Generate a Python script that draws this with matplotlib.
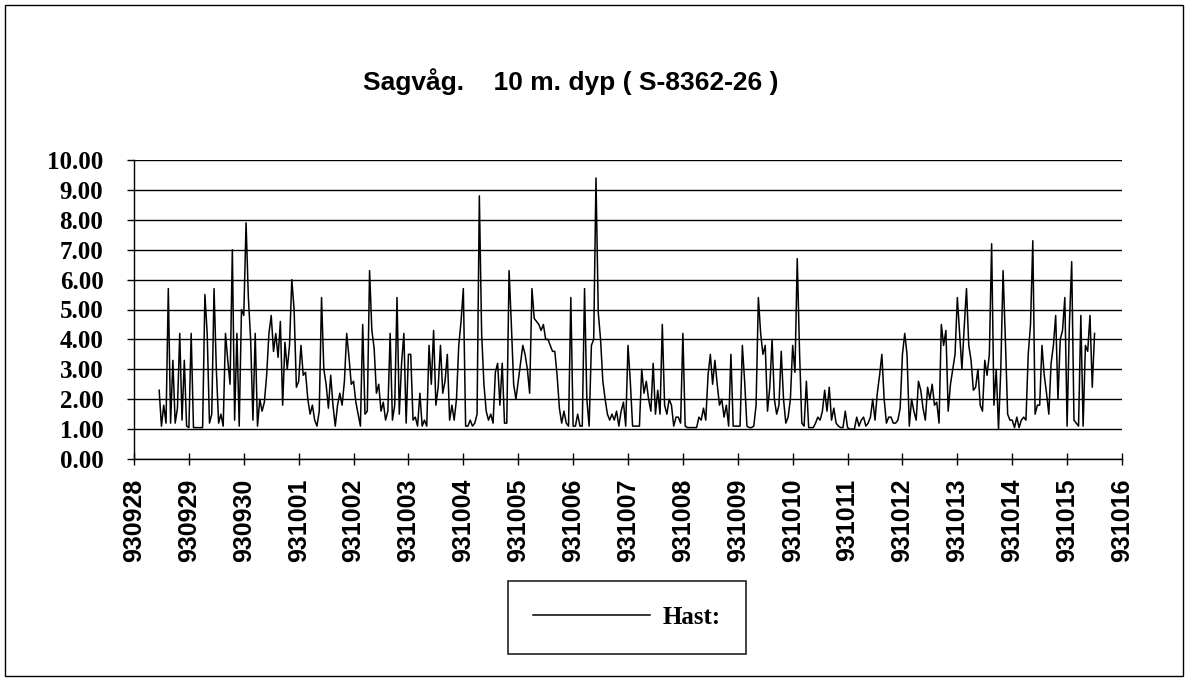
import matplotlib
matplotlib.use('Agg')
import matplotlib.pyplot as plt
from matplotlib.patches import Rectangle
import numpy as np

# Hast: timesverdier fra 930928 kl 11 og fremover
startHour = 11
hast = [
    2.3, 1.1, 1.8, 1.2, 5.7, 1.2, 3.3, 1.2, 1.7, 4.2, 1.3, 3.3, 1.1,
    1.05, 4.2, 1.05, 1.05, 1.05, 1.05, 1.05, 5.5, 4.2, 1.2, 1.5, 5.7,
    3.0, 1.2, 1.5, 1.1, 4.2, 3.3, 2.5, 7.0, 1.3, 4.2, 1.1, 5.0,
    4.8, 7.9, 5.4, 4.0, 1.3, 4.2, 1.1, 2.0, 1.6, 1.9, 2.8, 4.2,
    4.8, 3.6, 4.2, 3.4, 4.6, 1.8, 3.9, 3.0, 3.8, 6.0, 5.0, 2.4,
    2.6, 3.8, 2.8, 2.9, 2.0, 1.5, 1.8, 1.3, 1.1, 1.6, 5.4, 3.0,
    2.5, 1.7, 2.8, 1.8, 1.1, 1.8, 2.2, 1.8, 2.6, 4.2, 3.4, 2.5,
    2.6, 1.9, 1.5, 1.1, 4.5, 1.5, 1.6, 6.3, 4.3, 3.7, 2.2, 2.5,
    1.6, 1.9, 1.3, 1.6, 4.2, 1.3, 1.8, 5.4, 1.5, 3.2, 4.2, 1.2,
    3.5, 3.5, 1.3, 1.4, 1.1, 2.2, 1.1, 1.3, 1.1, 3.8, 2.5, 4.3,
    1.8, 2.4, 3.8, 2.2, 2.6, 3.5, 1.3, 1.8, 1.3, 2.0, 3.8, 4.6,
    5.7, 1.1, 1.1, 1.3, 1.1, 1.2, 1.5, 8.8, 4.2, 2.5, 1.6, 1.3,
    1.5, 1.2, 2.9, 3.2, 1.8, 3.2, 1.2, 1.2, 6.3, 4.5, 2.5, 2.0,
    2.6, 3.2, 3.8, 3.5, 3.0, 2.2, 5.7, 4.7, 4.6, 4.5, 4.3, 4.5,
    4.0, 4.0, 3.8, 3.6, 3.6, 2.8, 1.7, 1.2, 1.6, 1.2, 1.1, 5.4,
    1.1, 1.1, 1.5, 1.1, 1.1, 5.7, 2.0, 1.1, 3.8, 4.0, 9.4, 4.9,
    4.0, 2.6, 2.0, 1.5, 1.3, 1.5, 1.3, 1.6, 1.1, 1.6, 1.9, 1.1,
    3.8, 2.6, 1.1, 1.1, 1.1, 1.1, 3.0, 2.2, 2.6, 2.0, 1.6, 3.2,
    1.5, 2.3, 1.5, 4.5, 1.8, 1.5, 2.0, 1.8, 1.1, 1.4, 1.4, 1.2,
    4.2, 1.1, 1.05, 1.05, 1.05, 1.05, 1.05, 1.4, 1.3, 1.7, 1.3, 2.8,
    3.5, 2.5, 3.3, 2.5, 1.8, 2.0, 1.4, 1.8, 1.1, 3.5, 1.1, 1.1,
    1.1, 1.1, 3.8, 2.6, 1.1, 1.05, 1.05, 1.1, 1.8, 5.4, 4.2, 3.5,
    3.8, 1.6, 2.4, 4.0, 2.0, 1.5, 1.8, 3.6, 2.0, 1.2, 1.4, 2.0,
    3.8, 2.9, 6.7, 3.6, 1.2, 1.1, 2.6, 1.05, 1.05, 1.05, 1.2, 1.4,
    1.3, 1.6, 2.3, 1.6, 2.4, 1.3, 1.7, 1.2, 1.1, 1.05, 1.05, 1.6,
    1.05, 1.0, 1.0, 1.0, 1.4, 1.1, 1.3, 1.4, 1.1, 1.2, 1.4, 2.0,
    1.3, 2.2, 2.8, 3.5, 2.0, 1.2, 1.4, 1.4, 1.2, 1.2, 1.3, 1.7,
    3.5, 4.2, 3.5, 1.1, 2.0, 1.6, 1.3, 2.6, 2.3, 1.7, 1.3, 2.4,
    2.0, 2.5, 1.8, 1.9, 1.2, 4.5, 3.8, 4.3, 1.6, 2.5, 3.0, 3.5,
    5.4, 4.2, 3.0, 4.4, 5.7, 3.8, 3.3, 2.3, 2.4, 3.0, 1.8, 1.6,
    3.3, 2.8, 3.5, 7.2, 1.8, 3.0, 1.0, 3.0, 6.3, 4.0, 1.5, 1.3,
    1.3, 1.05, 1.4, 1.05, 1.3, 1.4, 1.3, 3.5, 4.5, 7.3, 1.5, 1.8,
    1.8, 3.8, 2.8, 2.2, 1.5, 3.2, 3.8, 4.8, 2.0, 4.0, 4.3, 5.4,
    1.1, 4.5, 6.6, 1.3, 1.2, 1.1, 4.8, 1.1, 3.8, 3.6, 4.8, 2.4,
    4.2,
]
dayLabels = ['930928', '930929', '930930', '931001', '931002', '931003',
             '931004', '931005', '931006', '931007', '931008', '931009',
             '931010', '931011', '931012', '931013', '931014', '931015',
             '931016']
yTicks = [0, 1, 2, 3, 4, 5, 6, 7, 8, 9, 10]

days = (startHour + np.arange(len(hast))) / 24.0

fig = plt.figure(figsize=(11.88, 6.81), dpi=100)
ax = fig.add_axes([134 / 1188, 1 - 459 / 681, (1122 - 134) / 1188, (459 - 160) / 681])

ax.plot(days, hast, color='black', lw=1.1, label='Hast:')

ax.set_xlim(0, len(dayLabels) - 1)
ax.set_ylim(0, 10)
ax.set_yticks(yTicks)
ax.set_yticklabels(['%.2f' % v for v in yTicks], family='Liberation Serif',
                   fontweight='bold', fontsize=18)
ax.set_xticks(range(len(dayLabels)))
ax.set_xticklabels(dayLabels, rotation=90, family='Liberation Sans',
                   fontweight='bold', fontsize=18)
ax.tick_params(axis='y', direction='out', length=5, width=1, pad=17)
ax.tick_params(axis='x', direction='inout', length=8, width=1, pad=10)
ax.grid(axis='y', color='black', lw=1)
ax.set_axisbelow(True)
for side in ['top', 'right']:
    ax.spines[side].set_visible(False)
for side in ['left', 'bottom']:
    ax.spines[side].set_linewidth(1)

fig.text(571 / 1188, 1 - 82 / 681, 'Sagvåg.    10 m. dyp ( S-8362-26 )',
         ha='center', va='center', family='Liberation Sans',
         fontweight='bold', fontsize=19)

leg = fig.legend(loc='center', bbox_to_anchor=(627 / 1188, 1 - 617 / 681),
                 prop={'family': 'Liberation Serif', 'weight': 'bold', 'size': 18},
                 handlelength=4.7, handletextpad=0.5, borderpad=1.0,
                 fancybox=False, edgecolor='#222222', framealpha=1)
leg.get_frame().set_linewidth(1.2)

# ramme rundt hele figuren
fig.patches.append(Rectangle((5 / 1188, 5 / 681), 1178 / 1188, 671 / 681,
                             transform=fig.transFigure, fill=False,
                             edgecolor='black', lw=1))

plt.savefig('out.png', dpi=100)
